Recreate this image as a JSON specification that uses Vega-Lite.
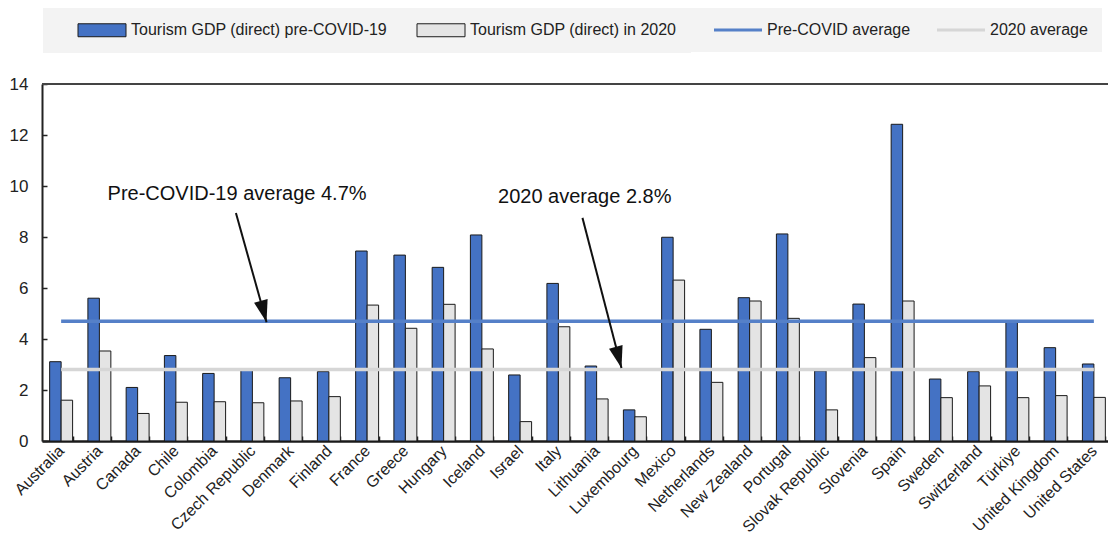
{
  "$schema": "https://vega.github.io/schema/vega-lite/v6.json",
  "width": 1066,
  "height": 357,
  "autosize": {"type": "none"},
  "padding": {"left": 42, "top": 84, "right": 0, "bottom": 108},
  "background": "white",
  "config": {
    "view": {"stroke": null},
    "font": "Liberation Sans, Arial, sans-serif"
  },
  "datasets": {
    "bars": [
      {"country": "Australia", "Tourism GDP (direct) pre-COVID-19": 3.11, "Tourism GDP (direct) in 2020": 1.6},
      {"country": "Austria", "Tourism GDP (direct) pre-COVID-19": 5.6, "Tourism GDP (direct) in 2020": 3.53},
      {"country": "Canada", "Tourism GDP (direct) pre-COVID-19": 2.1, "Tourism GDP (direct) in 2020": 1.08},
      {"country": "Chile", "Tourism GDP (direct) pre-COVID-19": 3.35, "Tourism GDP (direct) in 2020": 1.52},
      {"country": "Colombia", "Tourism GDP (direct) pre-COVID-19": 2.65, "Tourism GDP (direct) in 2020": 1.54},
      {"country": "Czech Republic", "Tourism GDP (direct) pre-COVID-19": 2.78, "Tourism GDP (direct) in 2020": 1.5},
      {"country": "Denmark", "Tourism GDP (direct) pre-COVID-19": 2.48, "Tourism GDP (direct) in 2020": 1.57},
      {"country": "Finland", "Tourism GDP (direct) pre-COVID-19": 2.72, "Tourism GDP (direct) in 2020": 1.74},
      {"country": "France", "Tourism GDP (direct) pre-COVID-19": 7.45, "Tourism GDP (direct) in 2020": 5.33},
      {"country": "Greece", "Tourism GDP (direct) pre-COVID-19": 7.29, "Tourism GDP (direct) in 2020": 4.42},
      {"country": "Hungary", "Tourism GDP (direct) pre-COVID-19": 6.81, "Tourism GDP (direct) in 2020": 5.36},
      {"country": "Iceland", "Tourism GDP (direct) pre-COVID-19": 8.08, "Tourism GDP (direct) in 2020": 3.61},
      {"country": "Israel", "Tourism GDP (direct) pre-COVID-19": 2.59, "Tourism GDP (direct) in 2020": 0.76},
      {"country": "Italy", "Tourism GDP (direct) pre-COVID-19": 6.18, "Tourism GDP (direct) in 2020": 4.48},
      {"country": "Lithuania", "Tourism GDP (direct) pre-COVID-19": 2.94, "Tourism GDP (direct) in 2020": 1.65},
      {"country": "Luxembourg", "Tourism GDP (direct) pre-COVID-19": 1.22, "Tourism GDP (direct) in 2020": 0.95},
      {"country": "Mexico", "Tourism GDP (direct) pre-COVID-19": 7.99, "Tourism GDP (direct) in 2020": 6.31},
      {"country": "Netherlands", "Tourism GDP (direct) pre-COVID-19": 4.38, "Tourism GDP (direct) in 2020": 2.3},
      {"country": "New Zealand", "Tourism GDP (direct) pre-COVID-19": 5.62, "Tourism GDP (direct) in 2020": 5.49},
      {"country": "Portugal", "Tourism GDP (direct) pre-COVID-19": 8.12, "Tourism GDP (direct) in 2020": 4.81},
      {"country": "Slovak Republic", "Tourism GDP (direct) pre-COVID-19": 2.75, "Tourism GDP (direct) in 2020": 1.22},
      {"country": "Slovenia", "Tourism GDP (direct) pre-COVID-19": 5.37, "Tourism GDP (direct) in 2020": 3.27},
      {"country": "Spain", "Tourism GDP (direct) pre-COVID-19": 12.42, "Tourism GDP (direct) in 2020": 5.49},
      {"country": "Sweden", "Tourism GDP (direct) pre-COVID-19": 2.43, "Tourism GDP (direct) in 2020": 1.7},
      {"country": "Switzerland", "Tourism GDP (direct) pre-COVID-19": 2.72, "Tourism GDP (direct) in 2020": 2.16},
      {"country": "Türkiye", "Tourism GDP (direct) pre-COVID-19": 4.65, "Tourism GDP (direct) in 2020": 1.7},
      {"country": "United Kingdom", "Tourism GDP (direct) pre-COVID-19": 3.66, "Tourism GDP (direct) in 2020": 1.78},
      {"country": "United States", "Tourism GDP (direct) pre-COVID-19": 3.02, "Tourism GDP (direct) in 2020": 1.71}
    ],
    "avg": [
      {"country": "Australia", "series": "Pre-COVID average", "value": 4.7},
      {"country": "United States", "series": "Pre-COVID average", "value": 4.7},
      {"country": "Australia", "series": "2020 average", "value": 2.8},
      {"country": "United States", "series": "2020 average", "value": 2.8}
    ],
    "arrows": [
      {"x": 5.07, "y": 8.94, "x2": 5.87, "y2": 4.66},
      {"x": 14.13, "y": 8.75, "x2": 15.15, "y2": 2.86}
    ],
    "notes": [
      {"label": "Pre-COVID-19 average 4.7%", "x": 5.1, "y": 9.45},
      {"label": "2020 average 2.8%", "x": 14.19, "y": 9.33}
    ],
    "frame": [{"top": 14}]
  },
  "layer": [
    {
      "layer": [
        {
          "data": {"name": "bars"},
          "transform": [
            {"fold": ["Tourism GDP (direct) pre-COVID-19", "Tourism GDP (direct) in 2020"], "as": ["series", "value"]}
          ],
          "mark": {"type": "bar", "stroke": "#1a1a1a", "strokeWidth": 1},
          "encoding": {
            "x": {
              "field": "country", "type": "nominal",
              "scale": {"range": [0, 1071], "paddingInner": 0.4, "paddingOuter": 0.2},
              "axis": {
                "title": null, "labelAngle": -45, "labelAlign": "right", "labelBaseline": "middle",
                "labelFontSize": 16, "labelColor": "#222", "labelPadding": 12,
                "domainColor": "#1a1a1a", "domainWidth": 2.5,
                "tickBand": "extent", "tickSize": -5, "tickColor": "#222", "tickWidth": 1.5,
                "grid": false
              }
            },
            "xOffset": {
              "field": "series", "type": "nominal",
              "scale": {"domain": ["Tourism GDP (direct) pre-COVID-19", "Tourism GDP (direct) in 2020"], "paddingInner": 0, "paddingOuter": 0}
            },
            "y": {
              "field": "value", "type": "quantitative",
              "scale": {"domain": [0, 14]},
              "axis": {
                "title": null, "values": [0, 2, 4, 6, 8, 10, 12, 14], "grid": false,
                "domainColor": "#222", "domainWidth": 2,
                "tickSize": -5, "tickColor": "#222", "tickWidth": 1.5,
                "labelPadding": 19, "labelFontSize": 17, "labelColor": "#222"
              }
            },
            "fill": {
              "field": "series", "type": "nominal",
              "scale": {
                "domain": ["Tourism GDP (direct) pre-COVID-19", "Tourism GDP (direct) in 2020"],
                "range": ["#4472c4", "#e4e4e4"]
              },
              "legend": {
                "orient": "none", "legendX": 1, "legendY": -76, "direction": "horizontal",
                "title": "\u00a0", "titleOrient": "left", "titlePadding": 19,
                "padding": 14, "fillColor": "#f3f3f3", "strokeColor": null, "columnPadding": 27,
                "labelFontSize": 16, "labelColor": "#222", "labelOffset": 39, "labelLimit": 400,
                "symbolType": "M-1,-1.08H7V1.08H-1Z", "symbolSize": 144,
                "symbolStrokeColor": "#1a1a1a", "symbolStrokeWidth": 1, "symbolOpacity": 1
              }
            }
          }
        },
        {
          "data": {"name": "avg"},
          "mark": {"type": "line", "strokeWidth": 3.5},
          "encoding": {
            "x": {"field": "country", "type": "nominal"},
            "y": {"field": "value", "type": "quantitative"},
            "stroke": {
              "field": "series", "type": "nominal",
              "scale": {"domain": ["Pre-COVID average", "2020 average"], "range": ["#5580c8", "#d6d6d6"]},
              "legend": {
                "orient": "none", "legendX": 641, "legendY": -76, "direction": "horizontal",
                "title": "\u00a0", "titleOrient": "left", "titlePadding": 15,
                "padding": 14, "fillColor": "#f3f3f3", "strokeColor": null, "columnPadding": 20,
                "labelFontSize": 16, "labelColor": "#222", "labelOffset": 39, "labelLimit": 400,
                "symbolType": "M-1,0H7", "symbolSize": 144, "symbolStrokeWidth": 3,
                "symbolFillColor": "transparent", "symbolOpacity": 1
              }
            }
          }
        },
        {
          "data": {"name": "frame"},
          "mark": {"type": "rule", "stroke": "#444", "strokeWidth": 2},
          "encoding": {"y": {"field": "top", "type": "quantitative"}}
        }
      ]
    },
    {
      "layer": [
        {
          "data": {"name": "arrows"},
          "mark": {"type": "rule", "stroke": "#111", "strokeWidth": 2},
          "encoding": {
            "x": {"field": "x", "type": "quantitative", "scale": {"domain": [0, 28], "range": [0, 1071]}, "axis": null},
            "y": {"field": "y", "type": "quantitative"},
            "x2": {"field": "x2"},
            "y2": {"field": "y2"}
          }
        },
        {
          "data": {"name": "arrows"},
          "mark": {"type": "point", "shape": "M0,0L-0.7,-2.2L0.7,-2.2Z", "filled": true, "fill": "#111", "strokeWidth": 0, "size": 400, "angle": 345, "opacity": 1},
          "encoding": {
            "x": {"field": "x2", "type": "quantitative"},
            "y": {"field": "y2", "type": "quantitative"}
          }
        },
        {
          "data": {"name": "notes"},
          "mark": {"type": "text", "fontSize": 20, "align": "center", "baseline": "alphabetic", "color": "#111"},
          "encoding": {
            "x": {"field": "x", "type": "quantitative"},
            "y": {"field": "y", "type": "quantitative"},
            "text": {"field": "label"}
          }
        }
      ]
    }
  ],
  "resolve": {"scale": {"x": "independent"}, "axis": {"x": "independent"}}
}
